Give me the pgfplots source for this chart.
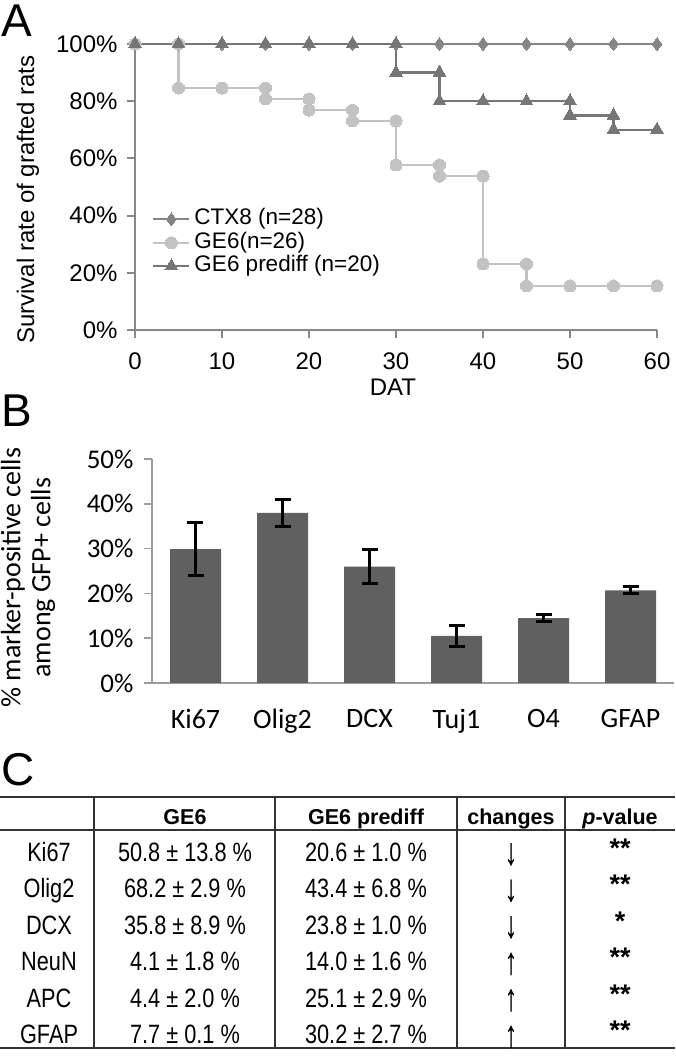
\documentclass[border=0pt]{standalone}
\usepackage{fontspec}
\setmainfont{Liberation Sans}
\newfontfamily\calibri{Carlito}
\newfontfamily\narrowsans[FakeStretch=0.82]{Liberation Sans}
\newfontfamily\arrowfont[FakeStretch=0.62, FakeBold=0.6]{Liberation Sans}
\usepackage{pgfplots}
\usepackage{pgfplotstable}
\pgfplotsset{compat=1.18}

\definecolor{agray}{HTML}{888888}
\definecolor{ctxcol}{HTML}{858585}
\definecolor{gecol}{HTML}{C2C2C2}
\definecolor{precol}{HTML}{767676}
\definecolor{barcol}{HTML}{606060}
\definecolor{bgray}{HTML}{9C9C9C}
\definecolor{rulecol}{HTML}{333333}

% panel A: survival (%), step curves given as corner points
\pgfplotstableread{
x y
0 100
5 100
10 100
15 100
20 100
25 100
30 100
35 100
40 100
45 100
50 100
55 100
60 100
}\ctxdata
\pgfplotstableread{
x y
0 100
5 100
5 84.6
10 84.6
15 84.6
15 80.8
20 80.8
20 76.9
25 76.9
25 73.1
30 73.1
30 57.7
35 57.7
35 53.8
40 53.8
40 23.1
45 23.1
45 15.4
50 15.4
55 15.4
60 15.4
}\gedata
\pgfplotstableread{
x y
0 100
5 100
10 100
15 100
20 100
25 100
30 100
30 90
35 90
35 80
40 80
45 80
50 80
50 75
55 75
55 70
60 70
}\predata

% panel B: marker-positive cells (%)
\pgfplotstableread{
x y err
1 29.9 5.9
2 38.0 3.0
3 26.0 3.8
4 10.5 2.4
5 14.5 0.8
6 20.7 0.8
}\markdata

\newcommand{\fa}{\fontsize{24}{28}\selectfont}
\newcommand{\ftab}{\narrowsans\fontsize{26.5}{28}\selectfont}

\begin{document}
\begin{tikzpicture}
\useasboundingbox (0,0) rectangle (675pt,1057pt);

% ---------- A ----------
\node[anchor=base west, inner sep=0pt, font=\fontsize{46}{46}\selectfont] at (1pt,1020pt) {A};
\begin{axis}[
  at={(135pt,727pt)}, anchor=south west,
  scale only axis, width=522pt, height=286pt,
  xmin=0, xmax=60, ymin=0, ymax=100,
  axis lines=left, axis line style={-, draw=agray, line width=2pt},
  tick style={draw=agray, line width=2pt}, major tick length=8pt, tick align=outside,
  xtick={0,10,...,60}, ytick={0,20,...,100},
  yticklabel={\pgfmathprintnumber{\tick}\%},
  /pgf/number format/assume math mode=true,
  tick label style={font=\fa},
  xticklabel style={yshift=-11pt},
  yticklabel style={xshift=-6pt},
  xlabel={DAT}, ylabel={Survival rate of grafted rats},
  label style={font=\fa},
  xlabel style={at={(axis description cs:0.494,-0.2)}, anchor=center},
  ylabel style={at={(axis description cs:-0.205,0.455)}, anchor=center},
  clip=false,
  legend style={at={(axis description cs:0.027,0.436)}, anchor=north west,
    draw=none, fill=none, font=\fontsize{22.5}{24}\selectfont,
    nodes={inner sep=0pt, text height=17.5pt, text depth=6pt},
    row sep=0pt},
  legend cell align=left,
  /tikz/every odd column/.append style={column sep=4pt},
  legend image code/.code={\draw[mark repeat=2, mark phase=2, #1]
    plot coordinates {(0pt,0pt) (18pt,0pt) (36pt,0pt)};},
]
\addplot[ctxcol, line width=2.2pt, mark=diamond*, mark size=6.5pt,
  mark options={fill=ctxcol, draw=ctxcol, line width=0pt}] table[x=x, y=y] {\ctxdata};
\addlegendentry{CTX8 (n=28)}
\addplot[gecol, line width=2.2pt, mark=*, mark size=6pt,
  mark options={fill=gecol, draw=gecol, line width=0pt}] table[x=x, y=y] {\gedata};
\addlegendentry{GE6(n=26)}
\addplot[precol, line width=2.2pt, mark=triangle*, mark size=7.5pt,
  mark options={fill=precol, draw=precol, line width=0pt}] table[x=x, y=y] {\predata};
\addlegendentry{GE6 prediff (n=20)}
\end{axis}

% ---------- B ----------
\node[anchor=base west, inner sep=0pt, font=\fontsize{46}{46}\selectfont] at (1pt,630pt) {B};
\begin{axis}[
  at={(152pt,374pt)}, anchor=south west,
  scale only axis, width=522pt, height=224pt,
  xmin=0.5, xmax=6.5, ymin=0, ymax=50,
  axis lines=left, axis line style={-, draw=bgray, line width=1.5pt},
  tick style={draw=bgray, line width=1.5pt}, major tick length=8pt, tick align=outside,
  ytick={0,10,...,50},
  yticklabel={\pgfmathprintnumber{\tick}\%},
  /pgf/number format/assume math mode=true,
  xtick={1,...,6}, xticklabels={Ki67,Olig2,DCX,Tuj1,O4,GFAP},
  major x tick style={draw=none},
  extra x ticks={0.5,1.5,...,6.5}, extra x tick labels={},
  extra x tick style={major tick length=10pt},
  yticklabel style={font=\calibri\fontsize{27}{30}\selectfont, xshift=-7pt},
  xticklabel style={font=\calibri\fontsize{28}{30}\selectfont, yshift=-15pt},
  ylabel={\% marker-positive cells\\among GFP+ cells},
  ylabel style={font=\calibri\fontsize{28}{30}\selectfont, align=center,
    at={(axis description cs:-0.2375,0.47)}, anchor=center},
  clip=false,
]
\addplot[ybar, bar width=51pt, fill=barcol, draw=none,
  error bars/.cd, y dir=both, y explicit,
  error bar style={black, line width=2.8pt},
  error mark options={black, rotate=90, mark size=8pt, line width=2.8pt}]
  table[x=x, y=y, y error=err] {\markdata};
\end{axis}

% ---------- C ----------
\node[anchor=base west, inner sep=0pt, font=\fontsize{46}{46}\selectfont] at (1pt,271pt) {C};
\draw[rulecol, line width=2pt] (0pt,260pt) -- (675pt,260pt);
\draw[rulecol, line width=2pt] (0pt,227pt) -- (675pt,227pt);
\draw[rulecol, line width=2pt] (0pt,9pt) -- (675pt,9pt);
\foreach \cx in {94,275,457,565}
  \draw[rulecol, line width=2pt] (\cx pt,260pt) -- (\cx pt,9pt);
\begin{scope}[every node/.style={anchor=base, inner sep=0pt, font=\fontsize{21.5}{24}\selectfont\bfseries}]
  \node at (185pt,232.5pt) {GE6};
  \node at (366pt,232.5pt) {GE6 prediff};
  \node at (511pt,232.5pt) {changes};
  \node at (620pt,232.5pt) {\textit{p}-value};
\end{scope}
\begin{scope}[every node/.style={anchor=base, inner sep=0pt, font=\ftab}]
\foreach \lab/\va/\vb/\arr/\p [count=\i from 0] in {
  Ki67/50.8 ± 13.8 \%/20.6 ± 1.0 \%/↓/**,
  Olig2/68.2 ± 2.9 \%/43.4 ± 6.8 \%/↓/**,
  DCX/35.8 ± 8.9 \%/23.8 ± 1.0 \%/↓/*,
  NeuN/4.1 ± 1.8 \%/14.0 ± 1.6 \%/↑/**,
  APC/4.4 ± 2.0 \%/25.1 ± 2.9 \%/↑/**,
  GFAP/7.7 ± 0.1 \%/30.2 ± 2.7 \%/↑/**} {
  \pgfmathsetmacro{\by}{195.5-36.5*\i}
  \node at (49pt,\by pt) {\lab};
  \node at (185pt,\by pt) {\va};
  \node at (366pt,\by pt) {\vb};
  \node[font=\arrowfont\fontsize{38}{40}\selectfont] at (511pt,\by pt-3pt) {\arr};
  \node[font=\fontsize{27}{28}\selectfont\bfseries] at (620pt,\by pt+4pt) {\p};
}
\end{scope}
\end{tikzpicture}
\end{document}
